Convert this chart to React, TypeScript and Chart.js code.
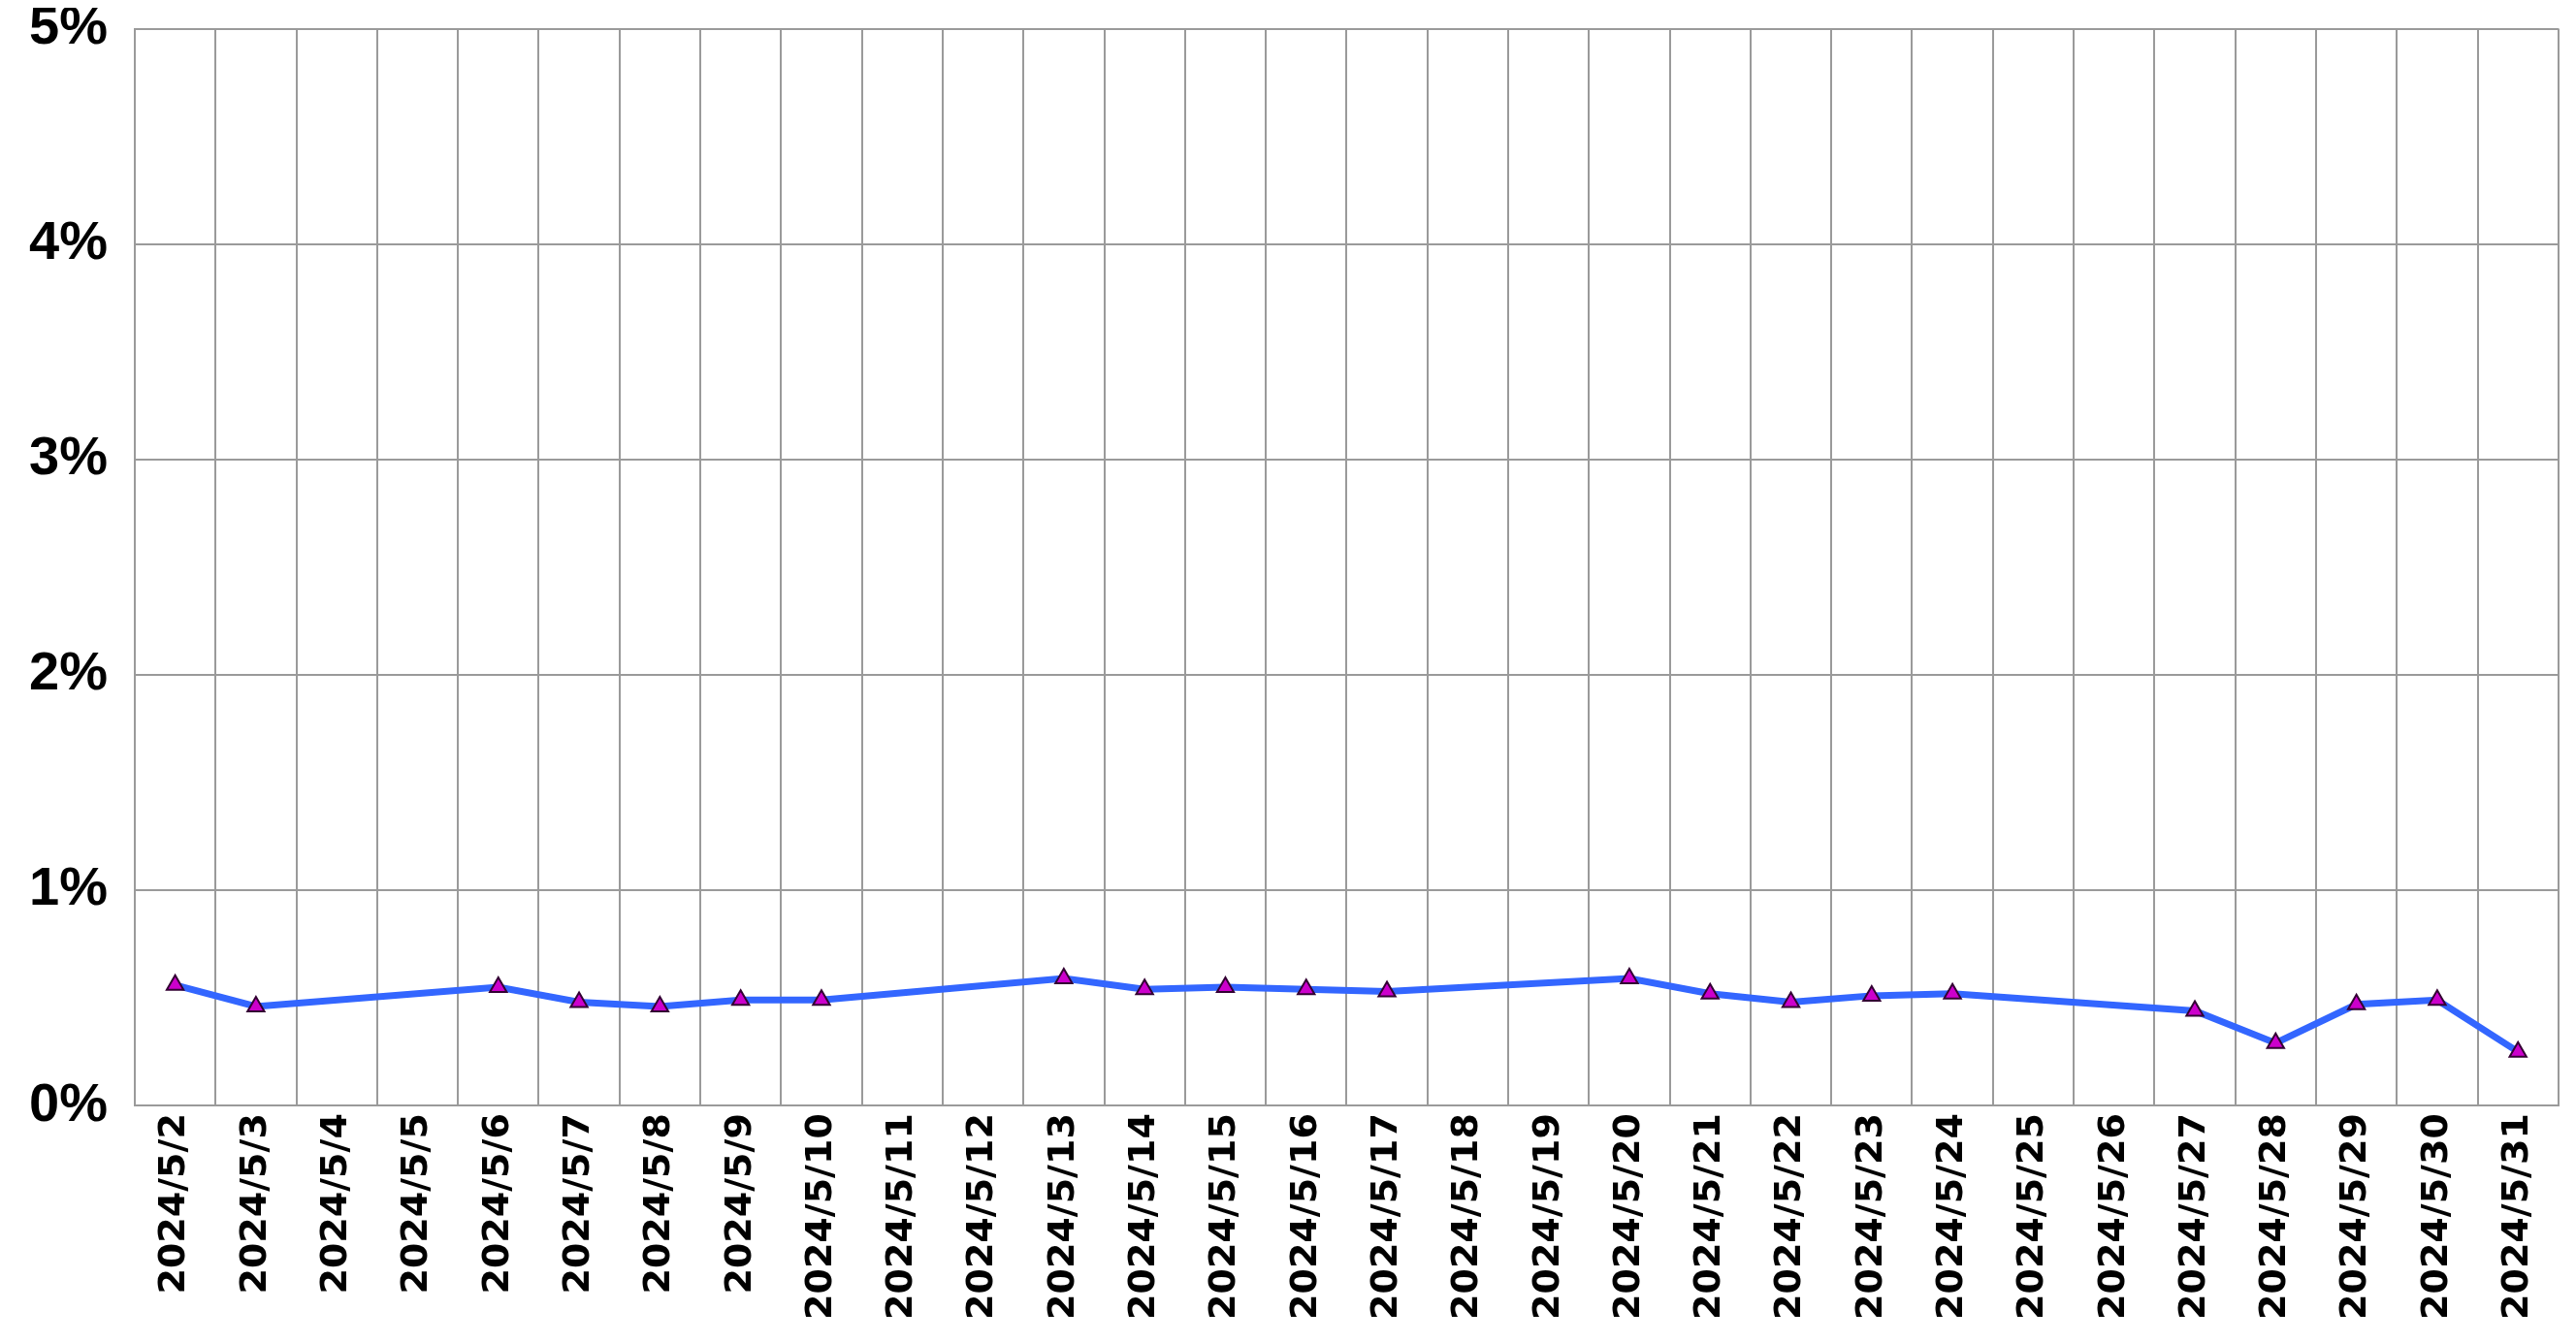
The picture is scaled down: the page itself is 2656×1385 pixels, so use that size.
import { useEffect, useRef } from "react";
import { Chart, registerables } from "chart.js";

Chart.register(...registerables);

const days = [
  "2024/5/2", "2024/5/3", "2024/5/4", "2024/5/5", "2024/5/6", "2024/5/7", "2024/5/8", "2024/5/9",
  "2024/5/10", "2024/5/11", "2024/5/12", "2024/5/13", "2024/5/14", "2024/5/15", "2024/5/16",
  "2024/5/17", "2024/5/18", "2024/5/19", "2024/5/20", "2024/5/21", "2024/5/22", "2024/5/23",
  "2024/5/24", "2024/5/25", "2024/5/26", "2024/5/27", "2024/5/28", "2024/5/29", "2024/5/30",
  "2024/5/31",
];

const rate = [
  0.56, 0.46, null, null, 0.55, 0.48, 0.46, 0.49,
  0.49, null, null, 0.59, 0.54, 0.55, 0.54,
  0.53, null, null, 0.59, 0.52, 0.48, 0.51,
  0.52, null, null, 0.44, 0.29, 0.47, 0.49,
  0.25,
];

const yTicks = [0, 1, 2, 3, 4, 5];

export default function App() {
  const canvasRef = useRef<HTMLCanvasElement>(null);

  useEffect(() => {
    const canvas = canvasRef.current;
    if (!canvas) return;
    const grid = { color: "#9a9a9a", lineWidth: 2 };
    const chart = new Chart(canvas, {
      type: "line",
      data: {
        labels: days,
        datasets: [
          {
            data: rate,
            spanGaps: true,
            borderColor: "#3366ff",
            borderWidth: 7,
            pointStyle: "triangle",
            pointRadius: 10,
            pointBackgroundColor: "#cc00cc",
            pointBorderColor: "#330033",
            pointBorderWidth: 2,
          },
        ],
      },
      options: {
        responsive: true,
        maintainAspectRatio: false,
        animation: false,
        layout: { padding: { top: 0, right: 10, left: 0 } },
        plugins: { legend: { display: false }, tooltip: { enabled: false } },
        scales: {
          x: {
            offset: true,
            grid: { ...grid, offset: true, drawTicks: false },
            border: { color: "#9a9a9a", width: 2 },
            ticks: {
              color: "#000",
              maxRotation: 90,
              minRotation: 90,
              padding: 8,
              autoSkip: false,
              font: { family: "'DejaVu Sans'", weight: "bold", size: 38 },
            },
          },
          y: {
            min: 0,
            max: 5,
            grid: { ...grid, drawTicks: false },
            border: { color: "#9a9a9a", width: 2 },
            afterBuildTicks: (axis) => {
              axis.ticks = yTicks.map((v) => ({ value: v }));
            },
            ticks: {
              color: "#000",
              padding: 28,
              callback: (v) => `${v}%`,
              font: { family: "'Liberation Sans Narrow', 'Liberation Sans'", weight: "bold", size: 56 },
            },
          },
        },
      },
    });
    return () => chart.destroy();
  }, []);

  return (
    <div style={{ width: 2648, height: 1401, marginTop: -40, marginLeft: -6 }}>
      <canvas ref={canvasRef} />
    </div>
  );
}
